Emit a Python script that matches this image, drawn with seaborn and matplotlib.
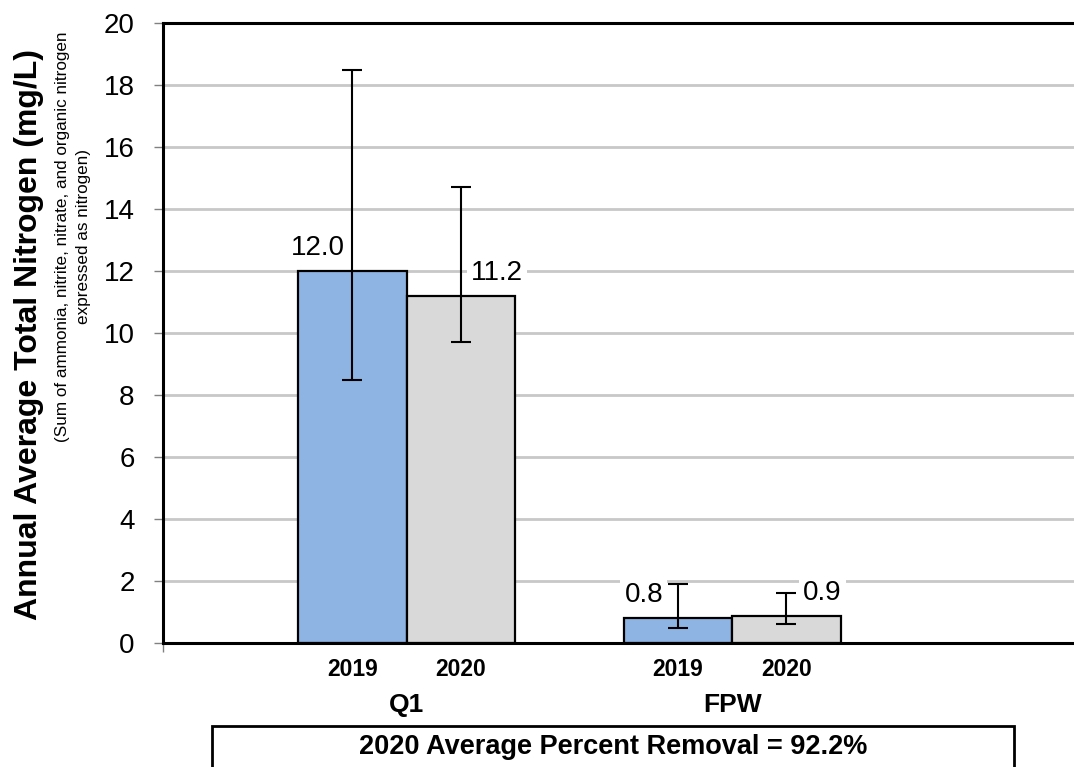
import matplotlib
matplotlib.use("Agg")
import matplotlib.pyplot as plt
import seaborn as sns
import pandas as pd

# Dados
locais = ["Q1", "FPW"]
anos = ["2019", "2020"]
media_2019 = [12.0, 0.8]
media_2020 = [11.2, 0.87]
min_2019 = [8.5, 0.5]
max_2019 = [18.5, 1.9]
min_2020 = [9.7, 0.6]
max_2020 = [14.7, 1.6]
rotulos_2019 = ["12.0", "0.8"]
rotulos_2020 = ["11.2", "0.9"]
remocao_txt = "2020 Average Percent Removal = 92.2%"
titulo_y = "Annual Average Total Nitrogen (mg/L)"
subtitulo_y = "(Sum of ammonia, nitrite, nitrate, and organic nitrogen\nexpressed as nitrogen)"

df = pd.DataFrame({
    "local": locais * 2,
    "ano": [anos[0]] * 2 + [anos[1]] * 2,
    "valor": media_2019 + media_2020,
})

sns.set_theme(style="white")
plt.rcParams["font.family"] = ["Liberation Sans", "DejaVu Sans"]
for k in ["text.color", "axes.labelcolor", "xtick.color", "ytick.color"]:
    plt.rcParams[k] = "black"

fig = plt.figure(figsize=(10.74, 7.67), dpi=100)
ax = fig.add_axes([163 / 1074, 1 - 643 / 767, 1 - 163 / 1074, (643 - 23) / 767])

sns.barplot(data=df, x="local", y="valor", hue="ano", order=locais, hue_order=anos,
            palette=["#8EB4E3", "#D9D9D9"], saturation=1, width=0.666, gap=0,
            edgecolor="black", linewidth=1.6, errorbar=None, legend=False, ax=ax, zorder=2)

ax.set_ylim(0, 20)
ax.set_xlim(-0.748, 2.05)
ax.set_yticks(range(0, 21, 2))
ax.tick_params(axis="y", labelsize=20, length=6.5, width=1, color="#808080",
               direction="out", left=True, pad=14)
ax.yaxis.grid(True, color="#C8C8C8", linewidth=2)
ax.set_axisbelow(True)
for s in ["left", "bottom", "top"]:
    ax.spines[s].set_color("black")
    ax.spines[s].set_linewidth(2.2)
ax.spines["right"].set_visible(False)
ax.set_xlabel("")
ax.set_ylabel("")

# barras de erro e rótulos
mins = [min_2019, min_2020]
maxs = [max_2019, max_2020]
rots = [rotulos_2019, rotulos_2020]
desloc = [-34, 36]
centros = []
barras = list(ax.containers)
for i, cont in enumerate(barras):
    for j, bar in enumerate(cont):
        xc = bar.get_x() + bar.get_width() / 2
        h = bar.get_height()
        centros.append((xc, anos[i]))
        ax.errorbar(xc, h, yerr=[[h - mins[i][j]], [maxs[i][j] - h]], fmt="none",
                    ecolor="black", elinewidth=1.5, capsize=7, capthick=1.5, zorder=3)
        ax.annotate(rots[i][j], (xc, h), xytext=(desloc[i], 23), textcoords="offset pixels",
                    ha="center", va="center", fontsize=20, zorder=4,
                    bbox=dict(boxstyle="square,pad=0.15", fc="white", ec="none"))

centros.sort()
ax.set_xticks([c[0] for c in centros])
ax.set_xticklabels([c[1] for c in centros], fontsize=16.5, fontweight="bold")
ax.tick_params(axis="x", length=0, pad=11)
ax.set_xticks([-0.748], minor=True)
ax.tick_params(axis="x", which="minor", length=6.5, width=1, color="#808080", bottom=True)

for k, nome in enumerate(locais):
    ax.text(k, -0.10, nome, transform=ax.get_xaxis_transform(), ha="center", va="center",
            fontsize=19, fontweight="bold")

# caixa com o percentual de remoção
fig.patches.append(plt.Rectangle((212 / 1074, -0.01), (1014 - 212) / 1074, 1 - 726 / 767 + 0.01,
                                 transform=fig.transFigure, fill=False, ec="black", lw=2))
fig.text(613 / 1074, 1 - 747 / 767, remocao_txt, ha="center", va="center",
         fontsize=19.5, fontweight="bold")

# título do eixo y
fig.text(29 / 1074, 1 - 334 / 767, titulo_y, rotation=90,
         ha="center", va="center", fontsize=23, fontweight="bold")
fig.text(73 / 1074, 1 - 237 / 767, subtitulo_y,
         rotation=90, ha="center", va="center", fontsize=12.3, linespacing=1.45,
         multialignment="center")

fig.savefig("out.png", dpi=100)
